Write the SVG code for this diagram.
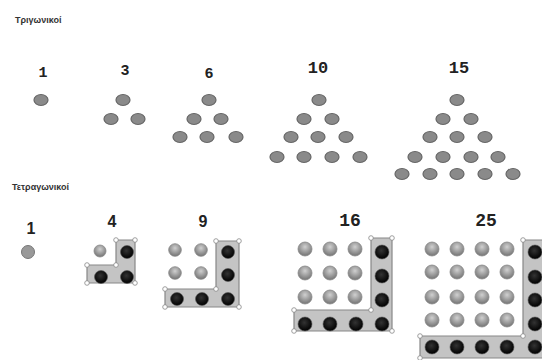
<svg xmlns="http://www.w3.org/2000/svg" width="542" height="360" viewBox="0 0 542 360">
<defs>
<radialGradient id="gg" cx="50%" cy="35%" r="60%">
<stop offset="0" stop-color="#d0d0d0"/>
<stop offset="0.55" stop-color="#a0a0a0"/>
<stop offset="1" stop-color="#7a7a7a"/>
</radialGradient>
<radialGradient id="bg" cx="45%" cy="40%" r="60%">
<stop offset="0" stop-color="#333"/>
<stop offset="1" stop-color="#000"/>
</radialGradient>
</defs>
<style>
.title{font-family:"Liberation Sans",Arial,sans-serif;font-size:9px;fill:#333;font-weight:bold}
.num{font-family:"Liberation Mono","Courier New",monospace;font-weight:bold;fill:#222;text-anchor:middle}
.numb{font-family:"Liberation Sans",Arial,sans-serif;font-weight:bold;fill:#222;text-anchor:middle;font-size:16px}
.t{fill:#8a8a8a;stroke:#666;stroke-width:1.2}
.g{fill:url(#gg);stroke:#888;stroke-width:0.8}
.b{fill:url(#bg);stroke:#555;stroke-width:0.6}
.L{fill:#c4c4c4;stroke:#888;stroke-width:1.2}
.h{fill:#fff;stroke:#888;stroke-width:0.8}
</style>
<rect width="542" height="360" fill="#fff"/>

<text class="title" x="15" y="23">Τριγωνικοί</text>
<text class="title" x="12" y="190">Τετραγωνικοί</text>

<g id="tri1">
<text class="num" x="43" y="77" font-size="15">1</text>
<ellipse class="t" cx="41" cy="100" rx="7" ry="5.5"/>
</g>
<g id="tri3">
<text class="num" x="125" y="75" font-size="15">3</text>
<ellipse class="t" cx="123" cy="100" rx="7" ry="5.5"/>
<ellipse class="t" cx="111" cy="119" rx="7" ry="5.5"/>
<ellipse class="t" cx="138" cy="119" rx="7" ry="5.5"/>
</g>
<g id="tri6">
<text class="num" x="209" y="78" font-size="15">6</text>
<ellipse class="t" cx="209" cy="100" rx="7" ry="5.5"/>
<ellipse class="t" cx="194" cy="119" rx="7" ry="5.5"/>
<ellipse class="t" cx="221" cy="119" rx="7" ry="5.5"/>
<ellipse class="t" cx="180" cy="137" rx="7" ry="5.5"/>
<ellipse class="t" cx="207" cy="137" rx="7" ry="5.5"/>
<ellipse class="t" cx="236" cy="137" rx="7" ry="5.5"/>
</g>
<g id="tri10">
<text class="num" x="318" y="73" font-size="17">10</text>
<ellipse class="t" cx="319" cy="100" rx="7" ry="5.5"/>
<ellipse class="t" cx="304" cy="119" rx="7" ry="5.5"/>
<ellipse class="t" cx="332" cy="119" rx="7" ry="5.5"/>
<ellipse class="t" cx="291" cy="137" rx="7" ry="5.5"/>
<ellipse class="t" cx="318" cy="137" rx="7" ry="5.5"/>
<ellipse class="t" cx="346" cy="137" rx="7" ry="5.5"/>
<ellipse class="t" cx="277" cy="157" rx="7" ry="5.5"/>
<ellipse class="t" cx="304" cy="157" rx="7" ry="5.5"/>
<ellipse class="t" cx="332" cy="157" rx="7" ry="5.5"/>
<ellipse class="t" cx="360" cy="157" rx="7" ry="5.5"/>
</g>
<g id="tri15">
<text class="num" x="459" y="73" font-size="17">15</text>
<ellipse class="t" cx="457" cy="100" rx="7" ry="5.5"/>
<ellipse class="t" cx="443" cy="119" rx="7" ry="5.5"/>
<ellipse class="t" cx="471" cy="119" rx="7" ry="5.5"/>
<ellipse class="t" cx="430" cy="137" rx="7" ry="5.5"/>
<ellipse class="t" cx="457" cy="137" rx="7" ry="5.5"/>
<ellipse class="t" cx="485" cy="137" rx="7" ry="5.5"/>
<ellipse class="t" cx="415" cy="157" rx="7" ry="5.5"/>
<ellipse class="t" cx="443" cy="157" rx="7" ry="5.5"/>
<ellipse class="t" cx="471" cy="157" rx="7" ry="5.5"/>
<ellipse class="t" cx="498" cy="157" rx="7" ry="5.5"/>
<ellipse class="t" cx="402" cy="174" rx="7" ry="5.5"/>
<ellipse class="t" cx="430" cy="174" rx="7" ry="5.5"/>
<ellipse class="t" cx="457" cy="174" rx="7" ry="5.5"/>
<ellipse class="t" cx="485" cy="174" rx="7" ry="5.5"/>
<ellipse class="t" cx="513" cy="174" rx="7" ry="5.5"/>
</g>

<g id="sq1">
<text class="numb" x="31" y="234">1</text>
<circle cx="28" cy="252" r="6.5" fill="#999" stroke="#777" stroke-width="1"/>
</g>

<g id="sq4">
<text class="numb" x="112" y="227">4</text>
<polygon class="L" points="116,240 135,240 135,283 87,283 87,265 116,265"/>
<circle class="h" cx="116" cy="240" r="2.3"/><circle class="h" cx="135" cy="240" r="2.3"/>
<circle class="h" cx="135" cy="283" r="2.3"/><circle class="h" cx="87" cy="283" r="2.3"/>
<circle class="h" cx="87" cy="265" r="2.3"/><circle class="h" cx="116" cy="265" r="2.3"/>
<circle class="g" cx="100" cy="251" r="6"/>
<circle class="b" cx="127" cy="252" r="6.5"/>
<circle class="b" cx="101" cy="277" r="6.5"/>
<circle class="b" cx="127" cy="277" r="6.5"/>
</g>

<g id="sq9">
<text class="numb" x="203" y="227">9</text>
<polygon class="L" points="216,241 239,241 239,307 165,307 165,289 216,289"/>
<circle class="h" cx="216" cy="241" r="2.3"/><circle class="h" cx="239" cy="241" r="2.3"/>
<circle class="h" cx="239" cy="307" r="2.3"/><circle class="h" cx="165" cy="307" r="2.3"/>
<circle class="h" cx="165" cy="289" r="2.3"/><circle class="h" cx="216" cy="289" r="2.3"/>
<circle class="g" cx="175" cy="250" r="6.3"/><circle class="g" cx="201" cy="250" r="6.3"/>
<circle class="g" cx="175" cy="273" r="6.3"/><circle class="g" cx="201" cy="273" r="6.3"/>
<circle class="b" cx="228" cy="252" r="6.5"/><circle class="b" cx="228" cy="275" r="6.5"/>
<circle class="b" cx="177" cy="299" r="6.5"/><circle class="b" cx="202" cy="299" r="6.5"/><circle class="b" cx="228" cy="299" r="6.5"/>
</g>

<g id="sq16">
<text class="num" x="350" y="226" font-size="18">16</text>
<polygon class="L" points="371,238 392,238 392,331 294,331 294,310 371,310"/>
<circle class="h" cx="371" cy="238" r="2.3"/><circle class="h" cx="392" cy="238" r="2.3"/>
<circle class="h" cx="392" cy="331" r="2.3"/><circle class="h" cx="294" cy="331" r="2.3"/>
<circle class="h" cx="294" cy="310" r="2.3"/><circle class="h" cx="371" cy="310" r="2.3"/>
<circle class="g" cx="305" cy="249" r="7"/><circle class="g" cx="330" cy="249" r="7"/><circle class="g" cx="355" cy="249" r="7"/>
<circle class="g" cx="305" cy="273" r="7"/><circle class="g" cx="330" cy="273" r="7"/><circle class="g" cx="355" cy="273" r="7"/>
<circle class="g" cx="305" cy="297" r="7"/><circle class="g" cx="330" cy="297" r="7"/><circle class="g" cx="355" cy="297" r="7"/>
<circle class="b" cx="382" cy="252" r="7"/><circle class="b" cx="382" cy="276" r="7"/><circle class="b" cx="382" cy="300" r="7"/>
<circle class="b" cx="305" cy="324" r="7"/><circle class="b" cx="330" cy="324" r="7"/><circle class="b" cx="356" cy="324" r="7"/><circle class="b" cx="382" cy="324" r="7"/>
</g>

<g id="sq25">
<text class="num" x="486" y="226" font-size="18">25</text>
<polygon class="L" points="523,240 546,240 546,358 420,358 420,336 523,336"/>
<circle class="h" cx="523" cy="240" r="2.3"/>
<circle class="h" cx="420" cy="358" r="2.3"/>
<circle class="h" cx="420" cy="336" r="2.3"/><circle class="h" cx="523" cy="336" r="2.3"/>
<circle class="g" cx="432" cy="249" r="7"/><circle class="g" cx="457" cy="249" r="7"/><circle class="g" cx="482" cy="249" r="7"/><circle class="g" cx="507" cy="249" r="7"/>
<circle class="g" cx="432" cy="272" r="7"/><circle class="g" cx="457" cy="272" r="7"/><circle class="g" cx="482" cy="272" r="7"/><circle class="g" cx="507" cy="272" r="7"/>
<circle class="g" cx="432" cy="297" r="7"/><circle class="g" cx="457" cy="297" r="7"/><circle class="g" cx="482" cy="297" r="7"/><circle class="g" cx="507" cy="297" r="7"/>
<circle class="g" cx="432" cy="320" r="7"/><circle class="g" cx="457" cy="320" r="7"/><circle class="g" cx="482" cy="320" r="7"/><circle class="g" cx="507" cy="320" r="7"/>
<circle class="b" cx="535" cy="252" r="7"/><circle class="b" cx="535" cy="277" r="7"/><circle class="b" cx="535" cy="300" r="7"/><circle class="b" cx="535" cy="324" r="7"/>
<circle class="b" cx="432" cy="347" r="7"/><circle class="b" cx="457" cy="347" r="7"/><circle class="b" cx="482" cy="347" r="7"/><circle class="b" cx="507" cy="347" r="7"/><circle class="b" cx="535" cy="347" r="7"/>
</g>
</svg>
